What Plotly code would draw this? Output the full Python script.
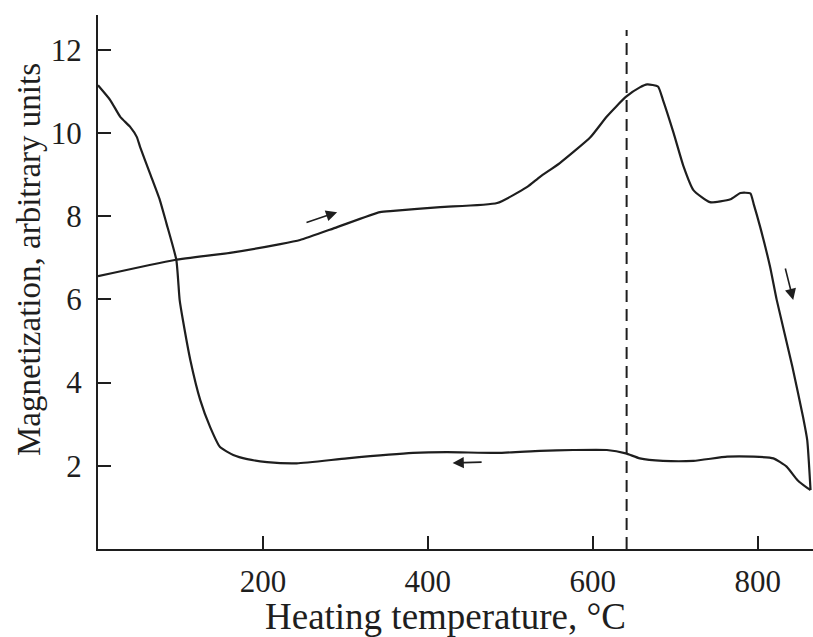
import plotly.graph_objects as go

# Heating branch (temperature, magnetization)
heat_T = [0, 93, 160, 221, 245, 290, 342, 358, 415, 484, 520, 536, 560, 597, 617, 640,
          657, 666, 679, 685, 698, 710, 722, 742, 767, 779, 791, 795, 803, 815, 823,
          842, 855, 860, 864]
heat_M = [6.56, 6.95, 7.12, 7.33, 7.43, 7.74, 8.10, 8.13, 8.22, 8.32, 8.70, 8.95, 9.28,
          9.90, 10.40, 10.87, 11.10, 11.17, 11.12, 10.80, 10.00, 9.20, 8.63, 8.34, 8.41,
          8.56, 8.55, 8.30, 7.74, 6.78, 5.99, 4.38, 3.17, 2.62, 1.42]

# Cooling branch (from high temperature back to room temperature)
cool_T = [864, 860, 848, 835, 819, 795, 763, 722, 685, 657, 640, 617, 576, 536, 484,
          423, 382, 302, 241, 205, 181, 164, 148, 136, 124, 112, 103, 99, 95, 83, 75,
          63, 51, 47, 39, 27, 15, 0]
cool_M = [1.42, 1.47, 1.66, 1.98, 2.18, 2.22, 2.22, 2.12, 2.12, 2.18, 2.30, 2.38, 2.38,
          2.36, 2.31, 2.33, 2.31, 2.18, 2.06, 2.09, 2.16, 2.26, 2.45, 2.93, 3.58, 4.54,
          5.50, 5.99, 6.95, 7.83, 8.39, 9.03, 9.67, 9.91, 10.15, 10.39, 10.79, 11.15]

x_ticks = [200, 400, 600, 800]
y_ticks = [2, 4, 6, 8, 10, 12]
curie_T = 641

# arrows: (tail_T, tail_M, head_T, head_M)
arrows = [
    (251, 7.84, 290, 8.10),
    (467, 2.09, 430, 2.07),
    (833, 6.78, 843, 5.99),
]

INK = "#1e1e1e"
FONT = "Liberation Serif"

fig = go.Figure()
fig.add_trace(go.Scatter(x=heat_T, y=heat_M, mode="lines",
                         line=dict(color=INK, width=2.2, shape="spline", smoothing=0.5),
                         hoverinfo="skip"))
fig.add_trace(go.Scatter(x=cool_T, y=cool_M, mode="lines",
                         line=dict(color=INK, width=2.2, shape="spline", smoothing=0.5),
                         hoverinfo="skip"))

fig.add_shape(type="line", x0=curie_T, x1=curie_T, y0=0, y1=12.48, xref="x", yref="y",
              line=dict(color=INK, width=2, dash="12px,7px"))

for tx, ty, hx, hy in arrows:
    fig.add_annotation(x=hx, y=hy, ax=tx, ay=ty, xref="x", yref="y", axref="x", ayref="y",
                       showarrow=True, arrowhead=2, arrowsize=1.4, arrowwidth=1.6,
                       arrowcolor=INK, text="")

fig.add_annotation(text="Heating temperature, °C", xref="paper", yref="paper",
                   x=0.486, y=-0.127, xanchor="center", yanchor="middle", showarrow=False,
                   font=dict(family=FONT, size=37, color=INK))
fig.add_annotation(text="Magnetization, arbitrary units", xref="paper", yref="paper",
                   x=-0.0965, y=0.541, xanchor="center", yanchor="middle", showarrow=False,
                   textangle=-90, font=dict(family=FONT, size=33, color=INK))

fig.update_layout(
    width=813, height=637,
    margin=dict(l=98, r=0, t=15, b=88),
    plot_bgcolor="white", paper_bgcolor="white",
    showlegend=False,
    xaxis=dict(range=[0, 867], tickvals=x_ticks, ticks="inside", ticklen=13, tickwidth=2,
               tickcolor=INK, showline=True, linewidth=2, linecolor=INK, showgrid=False,
               zeroline=False, tickfont=dict(family=FONT, size=31, color=INK),
               ticklabelstandoff=4, automargin=False),
    yaxis=dict(range=[0, 12.84], tickvals=y_ticks, ticks="inside", ticklen=13, tickwidth=2,
               tickcolor=INK, showline=True, linewidth=2, linecolor=INK, showgrid=False,
               zeroline=False, tickfont=dict(family=FONT, size=31, color=INK),
               ticklabelstandoff=8, automargin=False),
)

fig.write_html("out.html", config={"displayModeBar": False},
               post_script="document.body.style.margin='0';document.body.style.overflow='hidden';")
